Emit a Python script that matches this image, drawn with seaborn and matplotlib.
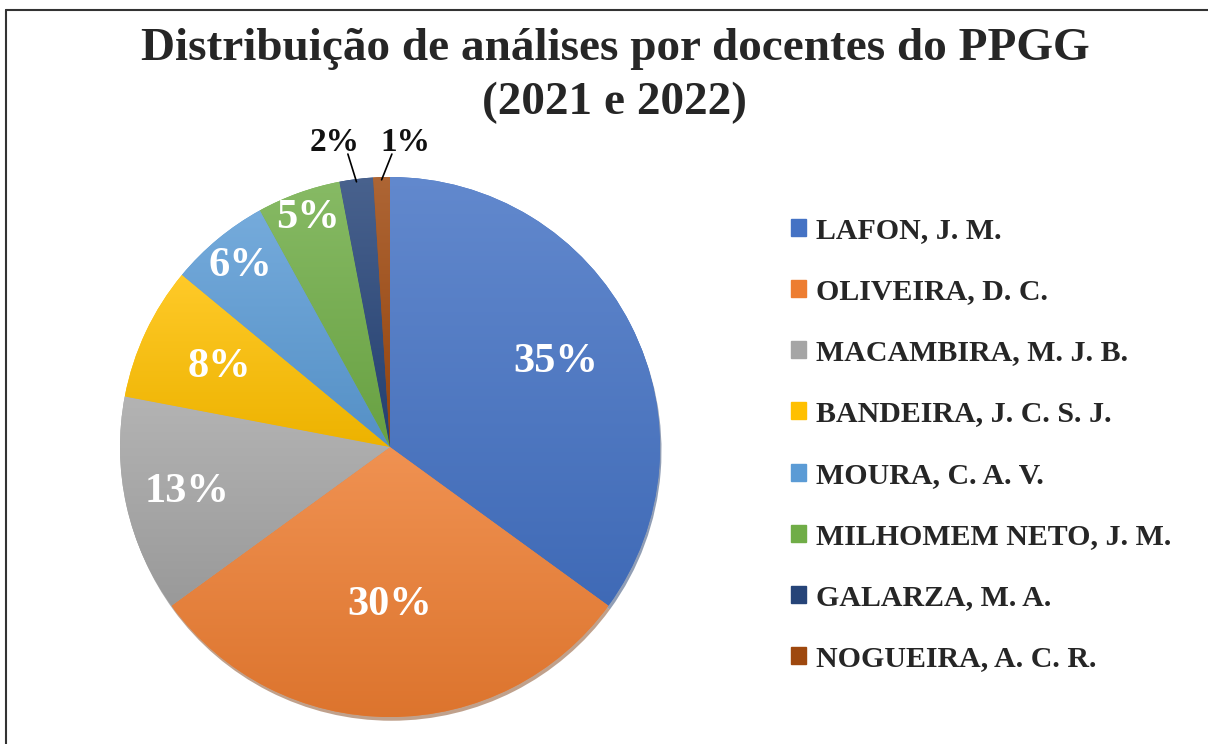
import numpy as np
import matplotlib.pyplot as plt
import matplotlib.colors as mcolors
from matplotlib.lines import Line2D
import seaborn as sb

sb.set_theme(style="white")
plt.rcParams['font.family'] = ['Liberation Serif', 'DejaVu Serif']
plt.rcParams['font.weight'] = 'bold'

# data
docentes = ['LAFON, J. M.', 'OLIVEIRA, D. C.', 'MACAMBIRA, M. J. B.',
            'BANDEIRA, J. C. S. J.', 'MOURA, C. A. V.', 'MILHOMEM NETO, J. M.',
            'GALARZA, M. A.', 'NOGUEIRA, A. C. R.']
percentuais = [35, 30, 13, 8, 6, 5, 2, 1]
cores = ['#4472C4', '#ED7D31', '#A5A5A5', '#FFC000',
         '#5B9BD5', '#70AD47', '#264478', '#9E480E']

fig = plt.figure(figsize=(12.08, 7.44), dpi=100)
fig.patch.set_facecolor('white')

ax = fig.add_axes([120/1208, 27/744, 540/1208, 540/744])
wedges, _ = ax.pie(percentuais, colors=cores, startangle=90, counterclock=False,
                   radius=1, shadow={'ox': 0.004, 'oy': -0.01, 'shade': 0.45},
                   wedgeprops={'linewidth': 0})

# vertical gradient on each wedge (Excel style)
for w, c in zip(wedges, cores):
    rgb = np.array(mcolors.to_rgb(c))
    top = rgb + (1 - rgb) * 0.16
    bot = rgb * 0.93
    t = np.linspace(0, 1, 256)[:, None]
    grad = top * (1 - t) + bot * t
    bb = w.get_path().get_extents(w.get_patch_transform())
    im = ax.imshow(grad[:, None, :], extent=[bb.x0, bb.x1, bb.y0, bb.y1],
                   aspect='auto', zorder=w.get_zorder() + 0.01, interpolation='bilinear')
    im.set_clip_path(w)

ax.set_xlim(-1, 1)
ax.set_ylim(-1, 1)
ax.set_aspect('equal')
ax.axis('off')

# rótulos internos
dist = [0.69, 0.585, 0.77, 0.70, 0.87, 0.90]
for w, p, d in zip(wedges[:6], percentuais[:6], dist):
    ang = np.deg2rad((w.theta1 + w.theta2) / 2)
    ax.text(d * np.cos(ang), d * np.sin(ang), f'{p}%', color='white',
            fontsize=30.5, fontweight='bold', ha='center', va='center', zorder=10)

# rótulos externos com linhas
ext_txt = [(-0.204, 1.126), (0.056, 1.126)]
ext_ini = [(-0.156, 1.085), (0.007, 1.085)]
for w, p, (tx, ty), (lx, ly) in zip(wedges[6:], percentuais[6:], ext_txt, ext_ini):
    ang = np.deg2rad((w.theta1 + w.theta2) / 2)
    ax.text(tx, ty, f'{p}%', color='#111111', fontsize=24, fontweight='bold',
            ha='center', va='center', zorder=10)
    ax.plot([lx, 0.99 * np.cos(ang)], [ly, 0.99 * np.sin(ang)], color='black',
            lw=1.2, clip_on=False, zorder=9)

fig.text(615/1208, 1 - 76/744, 'Distribuição de análises por docentes do PPGG\n(2021 e 2022)',
         ha='center', va='center', fontsize=34, fontweight='bold', color='#262626',
         linespacing=1.36)

handles = [plt.Rectangle((0, 0), 1, 1, color=c) for c in cores]
leg = fig.legend(handles, docentes, loc='upper left', bbox_to_anchor=(779/1208, 1 - 205/744),
                 frameon=False, fontsize=21.5, handlelength=0.5, handleheight=0.5,
                 handletextpad=0.35, labelspacing=1.145, borderaxespad=0)
for t in leg.get_texts():
    t.set_color('#262626')
    t.set_fontweight('bold')

# borda
fig.add_artist(Line2D([6/1208, 6/1208], [0, 1 - 10/744], color='#333333', lw=1.5))
fig.add_artist(Line2D([6/1208, 1], [1 - 10/744, 1 - 10/744], color='#333333', lw=1.5))

fig.savefig('out.png', dpi=100, facecolor='white')
